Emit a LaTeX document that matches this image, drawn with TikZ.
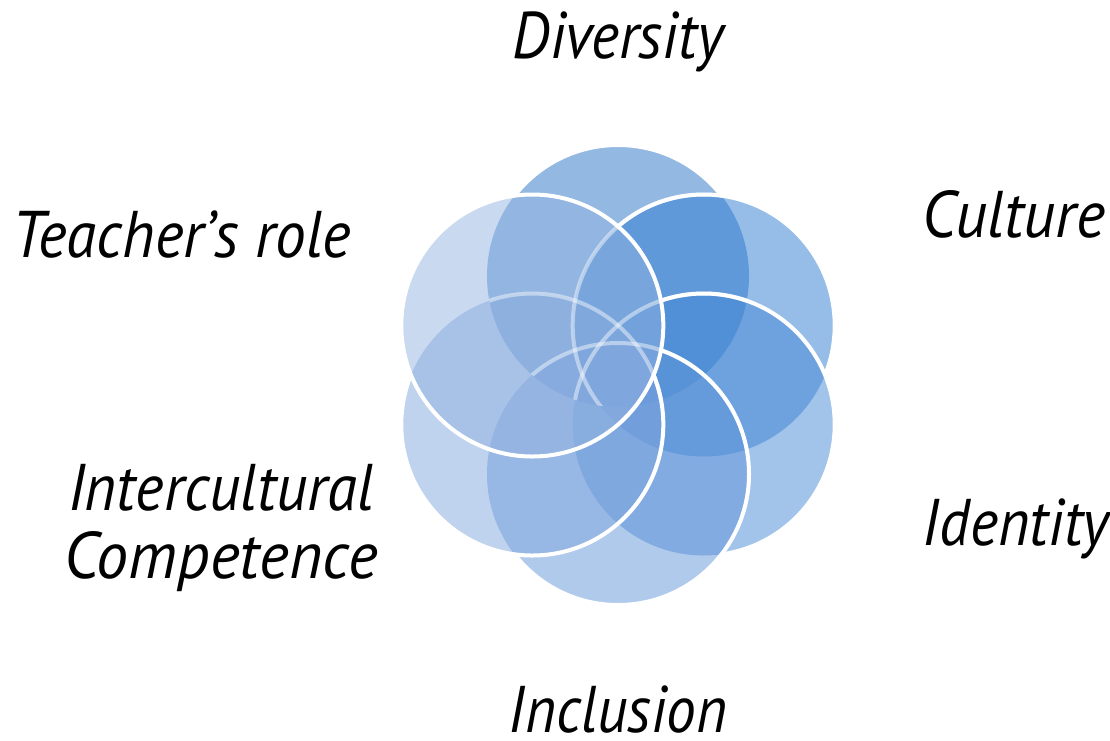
\documentclass[tikz,border=0pt]{standalone}
\usepackage{fontspec}
\setmainfont{PT Sans}
% half-transparent petal colours, dark to light
\definecolor{petalA}{RGB}{39,113,195}
\definecolor{petalB}{RGB}{45,123,209}
\definecolor{petalC}{RGB}{69,135,213}
\definecolor{petalD}{RGB}{97,149,217}
\definecolor{petalE}{RGB}{127,165,221}
\definecolor{petalF}{RGB}{147,179,225}
% clip to everything outside one petal (used in scopes with the even odd rule)
\newcommand\cutout[1]{\clip (-20,-20) rectangle (1130,760) (#1) circle[radius=131pt];}
\newcommand\lbltext[2]{\scalebox{#1}[1]{#2}}
\begin{document}
\begin{tikzpicture}[x=1pt,y=-1pt,
  petal/.style={fill=#1, fill opacity=0.5},
  rim/.style={draw=white, line width=4pt},
  faint/.style={draw=white, draw opacity=0.45, line width=4pt},
  lbl/.style={font=\fontsize{66}{70}\selectfont\itshape, anchor=base, inner sep=0pt, text depth=0pt, text=black}]
\useasboundingbox (0,0) rectangle (1110,740);

% petal centres on a ring of radius 99 around (618,375)
\coordinate (c1) at (618,276);
\coordinate (c2) at (703.7,325.5);
\coordinate (c3) at (703.7,424.5);
\coordinate (c4) at (618,474);
\coordinate (c5) at (532.3,424.5);
\coordinate (c6) at (532.3,325.5);

% translucent petals
\foreach \k/\c in {1/petalA,2/petalB,3/petalC,4/petalD,5/petalE,6/petalF}
  \fill[petal=\c] (c\k) circle[radius=131pt];

% rims that show faintly through the top petal
\begin{scope}
  \clip (c1) circle[radius=131pt];
  \foreach \k in {2,...,5} \draw[faint] (c\k) circle[radius=131pt];
\end{scope}

% rims drawn where no later petal lies over them
\begin{scope}[even odd rule]\cutout{c2}\cutout{c3}\cutout{c4}\cutout{c5}\cutout{c6}
  \draw[rim] (c1) circle[radius=131pt];\end{scope}
\begin{scope}[even odd rule]\cutout{c3}\cutout{c4}\cutout{c5}\cutout{c6}
  \draw[rim] (c2) circle[radius=131pt];\end{scope}
\begin{scope}[even odd rule]\cutout{c4}\cutout{c5}\cutout{c6}
  \draw[rim] (c3) circle[radius=131pt];\end{scope}
\begin{scope}[even odd rule]\cutout{c5}\cutout{c6}
  \draw[rim] (c4) circle[radius=131pt];\end{scope}
\begin{scope}[even odd rule]\cutout{c6}
  \draw[rim] (c5) circle[radius=131pt];\end{scope}
\draw[rim] (c6) circle[radius=131pt];

% labels
\node[lbl] (diversity) at (618,58) {\lbltext{0.91}{Diversity}};
\node[lbl] (culture) at (1014,237) {\lbltext{0.95}{Culture}};
\node[lbl] (identity) at (1016,545) {\lbltext{0.915}{Identity}};
\node[lbl] (inclusion) at (618,732) {\lbltext{0.9}{Inclusion}};
\node[lbl] (icc1) at (221,510) {\lbltext{0.925}{Intercultural}};
\node[lbl] (icc2) at (221,578) {\lbltext{0.97}{Competence}};
\node[lbl] (teacher) at (182,257) {\lbltext{0.93}{Teacher’s role}};
\end{tikzpicture}
\end{document}
